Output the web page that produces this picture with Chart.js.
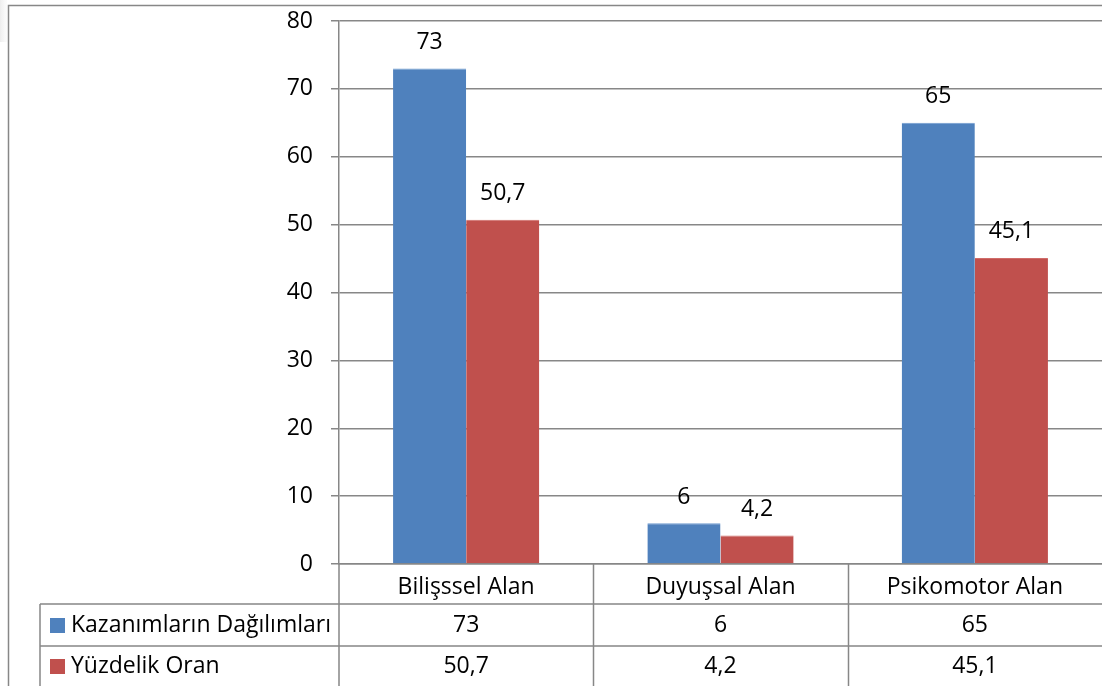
<!DOCTYPE html>
<html>
<head>
<meta charset="utf-8">
<script src="https://cdn.jsdelivr.net/npm/chart.js@4"></script>
<style>
  html, body { margin: 0; padding: 0; background: #fff; overflow: hidden; }
  #wrap { width: 1102px; height: 686px; overflow: hidden; }
</style>
</head>
<body>
<div id="wrap"><canvas id="grafik" width="1102" height="686"></canvas></div>
<script>
// Veriler (kaynak grafikteki yazim aynen korundu)
const kategoriler = ['Bilişssel Alan', 'Duyuşsal Alan', 'Psikomotor Alan'];
const kazanimlar = [73, 6, 65];
const yuzdelik = [50.7, 4.2, 45.1];
const seriAdlari = ['Kazanımların Dağılımları', 'Yüzdelik Oran'];
const renkler = ['#4F81BD', '#C0504D'];

const FONT = '"Open Sans", Lato, sans-serif';
const BOYUT = 23;
const GRI = '#878787';

function virgul(v) {
  return String(v).replace('.', ',');
}

// Excel tarzi veri tablosu + cerceve + etiketler
const tabloPlugin = {
  id: 'tablo',
  afterDraw(chart) {
    const c = chart.ctx;
    const x = chart.scales.x;
    const area = chart.chartArea;
    const H = chart.height;
    const W = chart.width + 10;
    const satir1 = area.bottom + 40;
    const satir2 = satir1 + 42;
    const tabloSol = 40;

    c.save();
    // sol ust koseda silik golge
    const g = c.createLinearGradient(0, 0, 8, 0);
    g.addColorStop(0, 'rgba(235,235,235,0.9)');
    g.addColorStop(1, 'rgba(245,245,245,0.2)');
    c.fillStyle = g;
    c.fillRect(0, 0, 7, 42);

    // dis cerceve
    c.strokeStyle = GRI;
    c.lineWidth = 1.5;
    c.beginPath();
    c.moveTo(8.5, H + 2);
    c.lineTo(8.5, 5.5);
    c.lineTo(W, 5.5);
    c.stroke();

    // tablo cizgileri
    c.beginPath();
    c.moveTo(tabloSol, satir1);
    c.lineTo(W, satir1);
    c.moveTo(tabloSol, satir2);
    c.lineTo(W, satir2);
    c.moveTo(tabloSol, satir1);
    c.lineTo(tabloSol, H + 2);
    c.moveTo(area.left, area.bottom);
    c.lineTo(area.left, H + 2);
    for (let i = 1; i < kategoriler.length; i++) {
      const bx = (x.getPixelForValue(i - 1) + x.getPixelForValue(i)) / 2;
      c.moveTo(Math.round(bx) + 0.5, area.bottom);
      c.lineTo(Math.round(bx) + 0.5, H + 2);
    }
    c.stroke();

    // tablo metinleri
    c.font = BOYUT + 'px ' + FONT;
    c.textBaseline = 'middle';
    const satirlar = [kazanimlar, yuzdelik];
    const satirY = [satir1 + 21, satir2 + 20];
    satirlar.forEach((veri, s) => {
      c.fillStyle = renkler[s];
      c.fillRect(50, satirY[s] - 7, 15, 15);
      c.fillStyle = '#000';
      c.textAlign = 'left';
      c.fillText(seriAdlari[s], 71, satirY[s]);
      c.textAlign = 'center';
      veri.forEach((v, i) => {
        c.fillText(virgul(v), x.getPixelForValue(i), satirY[s]);
      });
    });

    // cubuk ustu etiketler
    chart.data.datasets.forEach((ds, d) => {
      const meta = chart.getDatasetMeta(d);
      meta.data.forEach((bar, i) => {
        c.textAlign = 'center';
        c.fillText(virgul(ds.data[i]), bar.x, bar.y - 26);
      });
    });
    c.restore();
  }
};

new Chart(document.getElementById('grafik'), {
  type: 'bar',
  data: {
    labels: kategoriler,
    datasets: [
      { label: seriAdlari[0], data: kazanimlar, backgroundColor: renkler[0], borderColor: '#6f9bd0', borderWidth: { top: 1 }, borderSkipped: 'bottom' },
      { label: seriAdlari[1], data: yuzdelik, backgroundColor: renkler[1], borderColor: '#d06c69', borderWidth: { top: 1 }, borderSkipped: 'bottom' }
    ]
  },
  options: {
    responsive: false,
    animation: false,
    layout: { padding: { left: 0, right: -4, top: 21, bottom: 82 } },
    plugins: {
      legend: { display: false },
      tooltip: { enabled: false }
    },
    datasets: {
      bar: { categoryPercentage: 0.575, barPercentage: 1 }
    },
    scales: {
      x: {
        grid: { display: false },
        border: { display: true, color: GRI, width: 1.5 },
        ticks: { color: '#000', font: { family: FONT, size: BOYUT }, padding: 2, maxRotation: 0 },
        afterFit(scale) {
          scale.height = 40;
          scale.paddingLeft = 0;
          scale.paddingRight = 0;
        }
      },
      y: {
        min: 0,
        max: 80,
        ticks: { stepSize: 10, color: '#000', font: { family: FONT, size: BOYUT }, padding: 18 },
        grid: { color: GRI, lineWidth: 1.5, tickLength: 8 },
        border: { display: true, color: GRI, width: 1.5 },
        afterFit(scale) {
          scale.width = 339;
          scale.paddingTop = 0;
          scale.paddingBottom = 0;
        }
      }
    }
  },
  plugins: [tabloPlugin]
});
</script>
</body>
</html>
